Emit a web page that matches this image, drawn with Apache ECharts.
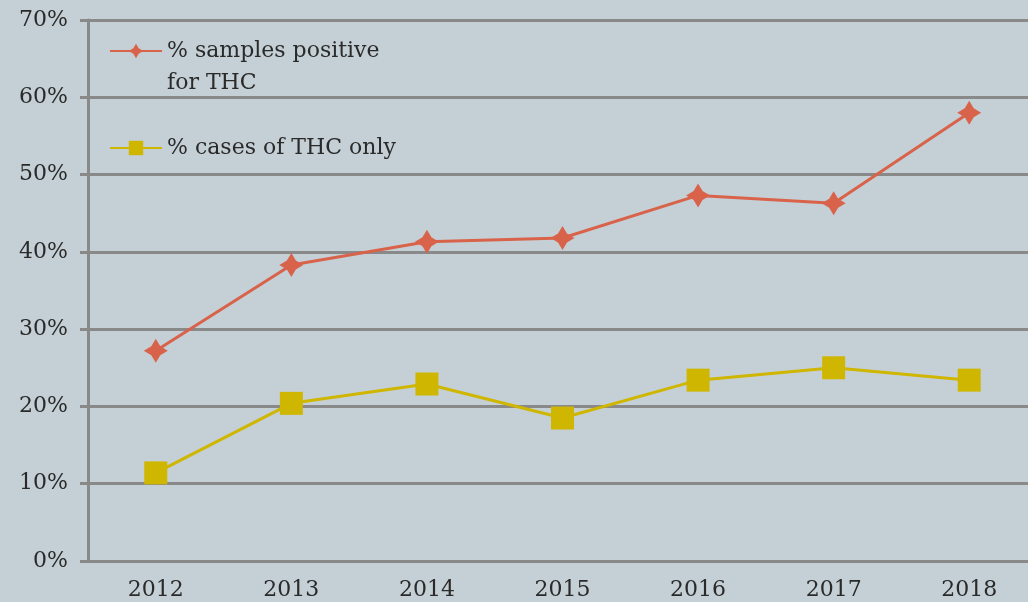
<!DOCTYPE html>
<html>
<head>
<meta charset="utf-8">
<script src="https://cdn.jsdelivr.net/npm/echarts@6/dist/echarts.min.js"></script>
<style>
html,body{margin:0;padding:0;background:#c5d0d6;overflow:hidden;width:1028px;height:602px;}
#chart{width:1044px;height:602px;}
</style>
</head>
<body>
<div id="chart"></div>
<script>
var categories = ['2012','2013','2014','2015','2016','2017','2018'];
var samplesPositive = [27.2, 38.3, 41.3, 41.8, 47.3, 46.3, 58.0];
var thcOnly = [11.4, 20.4, 22.9, 18.5, 23.4, 25.0, 23.4];
var seriesNames = ['% samples positive\nfor THC', '% cases of THC only'];

var FONT = 'DejaVu Serif';
var TXT = '#2a2a2a';
var AX = '#898989';
var RED = '#d9634a';
var YEL = '#cfb600';
var star = 'path://M0,-12 L4.5,-4.5 L12,0 L4.5,4.5 L0,12 L-4.5,4.5 L-12,0 L-4.5,-4.5 Z';

var chart = echarts.init(document.getElementById('chart'));
chart.setOption({
  backgroundColor: '#c5d0d6',
  animation: false,
  grid: {left: 88, top: 20, width: 949, height: 541, containLabel: false},
  legend: [
    {
      data: [seriesNames[0]],
      left: 109, top: 3, padding: 0,
      itemWidth: 52, itemHeight: 18,
      formatter: function (name) { return ' \n' + name; },
      textStyle: {fontFamily: FONT, fontSize: 22, color: TXT, lineHeight: 32}
    },
    {
      data: [seriesNames[1]],
      left: 109, top: 132, padding: 0,
      itemWidth: 52, itemHeight: 18,
      textStyle: {fontFamily: FONT, fontSize: 22, color: TXT, lineHeight: 32}
    }
  ],
  xAxis: {
    type: 'category',
    data: categories,
    axisLine: {lineStyle: {color: AX, width: 3}},
    axisTick: {length: 9, lineStyle: {color: AX, width: 3}},
    axisLabel: {fontFamily: FONT, fontSize: 22, color: TXT, margin: 18}
  },
  yAxis: {
    type: 'value',
    min: 0, max: 70, interval: 10,
    axisLine: {show: true, lineStyle: {color: AX, width: 3}},
    axisTick: {show: true, length: 8, lineStyle: {color: AX, width: 3}},
    splitLine: {lineStyle: {color: AX, width: 3}},
    axisLabel: {fontFamily: FONT, fontSize: 22, color: TXT, margin: 20, formatter: '{value}%'}
  },
  series: [
    {
      name: seriesNames[0], type: 'line', data: samplesPositive,
      symbol: star, symbolSize: 24,
      lineStyle: {color: RED, width: 3},
      itemStyle: {color: RED}
    },
    {
      name: seriesNames[1], type: 'line', data: thcOnly,
      symbol: 'rect', symbolSize: 23,
      lineStyle: {color: YEL, width: 3},
      itemStyle: {color: YEL}
    }
  ]
});
</script>
</body>
</html>
